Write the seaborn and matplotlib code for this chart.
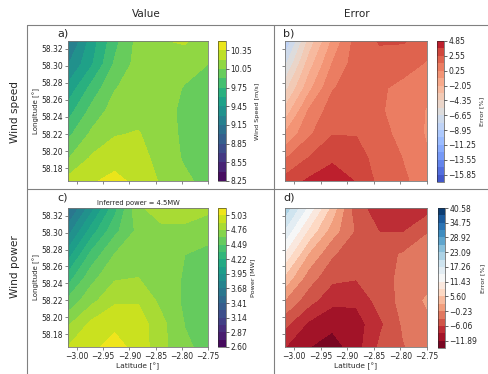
import numpy as np
import matplotlib
matplotlib.use("Agg")
import matplotlib.pyplot as plt
from matplotlib.lines import Line2D
import seaborn as sns

# grid nodes (columns = latitude axis, rows = longitude axis, bottom -> top)
lat = [-3.017, -2.972, -2.928, -2.883, -2.839, -2.794, -2.75]
lon = [58.165, 58.192, 58.220, 58.247, 58.274, 58.302, 58.329]

wind_speed = [
    [10.25, 10.33, 10.40, 10.30, 10.18, 10.08, 10.00],
    [10.04, 10.22, 10.28, 10.26, 10.14, 10.03, 9.96],
    [9.86, 10.08, 10.19, 10.21, 10.12, 10.02, 9.97],
    [9.68, 9.95, 10.12, 10.15, 10.10, 10.02, 9.99],
    [9.49, 9.80, 10.04, 10.13, 10.11, 10.04, 10.02],
    [9.29, 9.58, 9.92, 10.11, 10.14, 10.10, 10.05],
    [9.10, 9.52, 9.85, 10.10, 10.19, 10.22, 10.10],
]
speed_error = [
    [3.0, 3.9, 4.6, 3.6, 2.2, 1.55, 0.9],
    [1.3, 2.6, 3.4, 3.0, 2.1, 1.35, 0.4],
    [-0.8, 1.2, 2.5, 2.5, 1.6, 1.2, 0.1],
    [-2.8, 0.4, 2.0, 2.1, 1.5, 1.0, 0.15],
    [-4.8, -1.3, 1.3, 2.0, 1.55, 1.1, 0.6],
    [-6.9, -2.6, 0.3, 2.0, 2.1, 1.8, 1.3],
    [-9.0, -4.0, -0.7, 1.9, 2.65, 2.65, 1.8],
]
wind_power = [
    [4.90, 5.00, 5.08, 4.98, 4.80, 4.65, 4.58],
    [4.74, 4.93, 5.00, 4.97, 4.80, 4.62, 4.55],
    [4.52, 4.72, 4.87, 4.88, 4.72, 4.60, 4.58],
    [4.28, 4.58, 4.74, 4.76, 4.70, 4.61, 4.58],
    [4.02, 4.40, 4.63, 4.72, 4.70, 4.625, 4.60],
    [3.75, 4.15, 4.45, 4.66, 4.73, 4.72, 4.66],
    [3.50, 3.90, 4.30, 4.74, 4.82, 4.84, 4.80],
]
power_error = [
    [-8.9, -11.8, -13.4, -10.2, -5.6, -3.3, -1.8],
    [-5.3, -9.6, -11.1, -10.4, -6.7, -2.7, -1.1],
    [-0.4, -4.9, -8.2, -8.4, -4.9, -2.2, 0.2],
    [4.9, -1.8, -5.3, -5.8, -4.4, -2.4, -1.8],
    [10.7, 2.2, -2.9, -4.9, -4.4, -2.8, -2.2],
    [16.7, 7.8, 1.1, -3.6, -6.2, -6.3, -3.3],
    [22.2, 13.3, 4.4, -5.3, -7.1, -7.6, -7.5],
]
inferred_power = 4.5

x_ticks = [-3.00, -2.95, -2.90, -2.85, -2.80, -2.75]
y_ticks = [58.18, 58.20, 58.22, 58.24, 58.26, 58.28, 58.30, 58.32]

speed_ticks = [8.25, 8.55, 8.85, 9.15, 9.45, 9.75, 10.05, 10.35]
speed_err_ticks = [4.85, 2.55, 0.25, -2.05, -4.35, -6.65, -8.95, -11.25, -13.55, -15.85]
power_ticks = [2.60, 2.87, 3.14, 3.41, 3.68, 3.95, 4.22, 4.49, 4.76, 5.03]
power_err_ticks = [40.58, 34.75, 28.92, 23.09, 17.26, 11.43, 5.60, -0.23, -6.06, -11.89]

sns.set_style("ticks")
plt.rcParams['font.family'] = ['DejaVu Sans']

W, H = 489, 374
fig = plt.figure(figsize=(W / 100, H / 100), dpi=100)


def box(x0, y0, x1, y1):
    return [x0 / W, 1 - y1 / H, (x1 - x0) / W, (y1 - y0) / H]


def fmt(v):
    return f"{v:.2f}".replace('-', '\u2212')


def panel(ax_box, cax_box, z, levels, ticks, cmap, cblabel, xlab, ylab):
    ax = fig.add_axes(box(*ax_box))
    cax = fig.add_axes(box(*cax_box))
    cs = ax.contourf(lat, lon, np.array(z), levels=levels, cmap=cmap)
    ax.set_xlim(-3.017, -2.75)
    ax.set_ylim(58.165, 58.329)
    ax.set_xticks(x_ticks)
    ax.set_yticks(y_ticks)
    ax.set_xticklabels([fmt(t) for t in x_ticks] if xlab else [])
    ax.set_yticklabels([fmt(t) for t in y_ticks] if ylab else [])
    ax.tick_params(labelsize=5.5, length=2, width=0.5, pad=1.5, color='#555555')
    for s in ax.spines.values():
        s.set_linewidth(0.6)
        s.set_color('#777777')
    if xlab:
        ax.set_xlabel('Latitude [°]', fontsize=5.4, labelpad=1)
    if ylab:
        ax.set_ylabel('Longitude [°]', fontsize=5.0, labelpad=1)
    cb = fig.colorbar(cs, cax=cax, ticks=ticks)
    cb.set_ticklabels([fmt(t) for t in ticks])
    cb.outline.set_linewidth(0.4)
    cax.tick_params(labelsize=5.5, length=2, width=0.5, pad=1)
    cb.set_label(cblabel, fontsize=4.6, labelpad=2)
    return ax


viridis = sns.color_palette("viridis", as_cmap=True)
coolwarm = sns.color_palette("coolwarm", as_cmap=True)
rdbu = sns.color_palette("RdBu", as_cmap=True)

speed_levels = np.round(8.25 + 0.15 * np.arange(16), 3)
speed_err_levels = np.round(4.85 - 1.15 * np.arange(20), 3)[::-1]
power_levels = np.round(2.60 + 0.135 * np.arange(20), 3)
power_err_levels = np.round(40.58 - 2.915 * np.arange(20), 3)[::-1]

panel((68, 41, 208, 181), (218, 41, 226, 181), wind_speed, speed_levels,
      speed_ticks, viridis, 'Wind Speed [m/s]', False, True)
panel((285, 41, 427, 181), (437, 41, 444, 182), speed_error, speed_err_levels,
      speed_err_ticks, coolwarm, 'Error [%]', False, False)
axc = panel((68, 208, 208, 347), (218, 208, 226, 347), wind_power, power_levels,
            power_ticks, viridis, 'Power [MW]', True, True)
panel((285, 208, 427, 347), (438, 208, 445, 348), power_error, power_err_levels,
      power_err_ticks, rdbu, 'Error [%]', True, False)

axc.set_title(f'Inferred power = {inferred_power}MW', fontsize=4.9, pad=2)

# panel letters
for lab, x, y in [('a)', 57, 33), ('b)', 283, 33), ('c)', 57, 198), ('d)', 283, 198)]:
    fig.text(x / W, 1 - y / H, lab, fontsize=8, ha='left', va='center')

# column and row headers
fig.text(146 / W, 1 - 14 / H, 'Value', fontsize=7.5, ha='center', va='center')
fig.text(357 / W, 1 - 14 / H, 'Error', fontsize=7.5, ha='center', va='center')
fig.text(15 / W, 1 - 112 / H, 'Wind speed', fontsize=7.6, rotation=90,
         ha='center', va='center')
fig.text(15 / W, 1 - 267 / H, 'Wind power', fontsize=7.6, rotation=90,
         ha='center', va='center')

# separator lines
line_kw = dict(transform=fig.transFigure, color='#808080', lw=0.8)
fig.add_artist(Line2D([27 / W, 1], [1 - 25 / H] * 2, **line_kw))
fig.add_artist(Line2D([27 / W, 1], [1 - 189 / H] * 2, **line_kw))
fig.add_artist(Line2D([27 / W] * 2, [0, 1 - 25 / H], **line_kw))
fig.add_artist(Line2D([274 / W] * 2, [0, 1 - 25 / H], **line_kw))

fig.savefig('out.png', dpi=100)
